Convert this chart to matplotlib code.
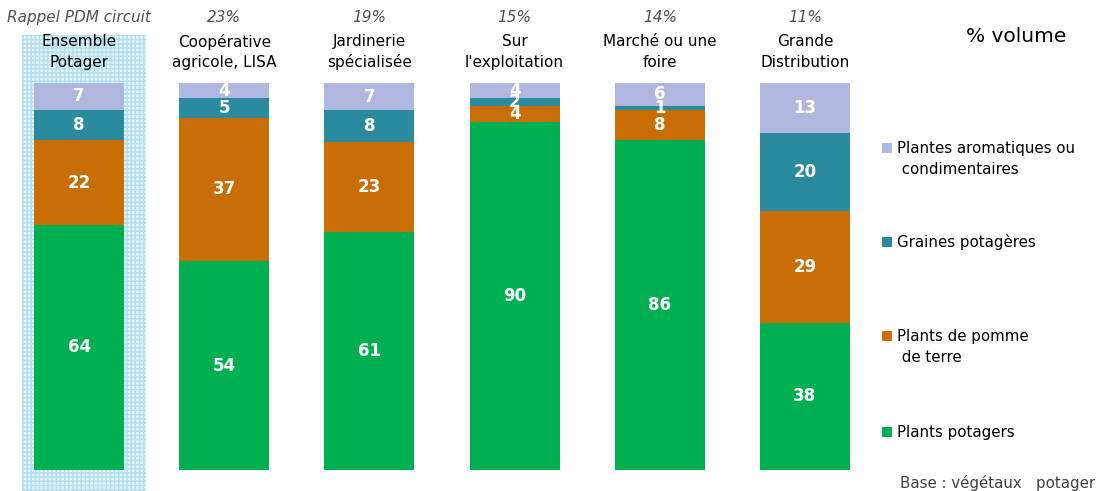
import matplotlib
matplotlib.use("Agg")
import matplotlib.pyplot as plt
from matplotlib.patches import Rectangle
import numpy as np

plt.rcParams['font.family'] = ['DejaVu Sans']
plt.rcParams['hatch.linewidth'] = 1.0

# Circuits de distribution
categories = ["Ensemble\nPotager", "Coopérative\nagricole, LISA", "Jardinerie\nspécialisée",
              "Sur\nl'exploitation", "Marché ou une\nfoire", "Grande\nDistribution"]
shares = ["Rappel PDM circuit", "23%", "19%", "15%", "14%", "11%"]

# Répartition en % volume (de bas en haut)
plants_potagers = [64, 54, 61, 90, 86, 38]
plants_pomme_de_terre = [22, 37, 23, 4, 8, 29]
graines_potageres = [8, 5, 8, 2, 1, 20]
plantes_aromatiques = [7, 4, 7, 4, 6, 13]

series_names = ["Plants potagers", "Plants de pomme\n de terre", "Graines potagères",
                "Plantes aromatiques ou\n condimentaires"]
series_colors = ["#00b050", "#c96d05", "#2a8a9e", "#b0b7de"]

series = np.array([plants_potagers, plants_pomme_de_terre, graines_potageres, plantes_aromatiques], dtype=float)
totals = series.sum(axis=0)
shares_norm = series / totals * 100

W, H = 1104, 491
fig = plt.figure(figsize=(W / 100, H / 100), dpi=100)
ax = fig.add_axes([6.5 / W, 21 / H, 871 / W, 387 / H])
ax.set_xlim(-0.5, 5.5)
ax.set_ylim(0, 100)
ax.axis('off')

x = np.arange(len(categories))
px = 145.0  # pixels per category

# Highlighted reference column
ax.add_patch(Rectangle((-57 / px, -6), 124 / px, 118.5, facecolor="#e2f3f9",
                       edgecolor="#b2dfee", hatch="++++", lw=0, clip_on=False, zorder=0))

bottom = np.zeros(len(categories))
for vals, raw, col in zip(shares_norm, series, series_colors):
    ax.bar(x, vals, bottom=bottom, width=90 / px, color=col, edgecolor='none', zorder=2)
    for xi, b, v, r in zip(x, bottom, vals, raw):
        ax.text(xi, b + v / 2, f"{int(r)}", ha='center', va='center', color='white',
                fontsize=12, fontweight='bold', zorder=3)
    bottom += vals

for xi, cat, sh in zip(x, categories, shares):
    ax.text(xi, 116.8, sh, ha='center', va='center', fontsize=11, style='italic',
            color='#505050', clip_on=False)
    ax.text(xi, 108.0, cat, ha='center', va='center', fontsize=11, color='black',
            linespacing=1.45, clip_on=False)

# Legend drawn at right
leg_y = [432, 347, 242, 159]
for name, col, yy in zip(series_names, series_colors, leg_y):
    n_lines = name.count("\n") + 1
    first_line_y = yy - (n_lines - 1) * 11
    fig.patches.append(Rectangle((882 / W, 1 - (first_line_y + 5) / H), 10 / W, 10 / H,
                                 transform=fig.transFigure, facecolor=col, edgecolor='none'))
    fig.text(897 / W, 1 - yy / H, name, ha='left', va='center', fontsize=10.8,
             color='black', linespacing=1.5)

fig.text(1016 / W, 1 - 36 / H, "% volume", ha='center', va='center', fontsize=14.5, color='black')
fig.text(998 / W, 1 - 483 / H, "Base : végétaux   potager", ha='center', va='center',
         fontsize=10.8, color='#404040')

fig.savefig("out.png", dpi=100)
